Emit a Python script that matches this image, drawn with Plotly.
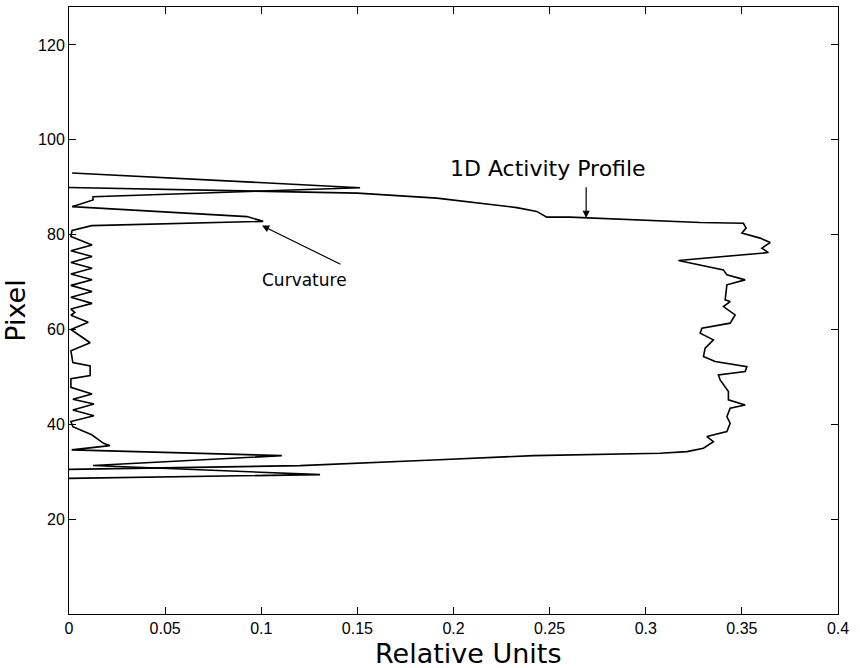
import plotly.graph_objects as go

# Curvature trace (x = relative units, y = pixel)
curv_x = [0.0016, 0.1514, 0.0125, 0.0125, 0.0016, 0.0926, 0.1010, 0.0118, 0.0016,
          0.0010, 0.0120, 0.0010, 0.0120, 0.0010, 0.0120, 0.0010, 0.0120, 0.0010,
          0.0120, 0.0010, 0.0120, 0.0010, 0.0030, 0.0010, 0.0100, 0.0010, 0.0110,
          0.0010, 0.0020, 0.0110, 0.0110, 0.0010, 0.0010, 0.0120, 0.0020, 0.0130,
          0.0020, 0.0130, 0.0010, 0.0020, 0.0118, 0.0180, 0.0213, 0.0014, 0.1107,
          0.0125, 0.1306, 0.0]
curv_y = [93.0, 89.9, 88.0, 87.3, 85.9, 83.8, 82.8, 81.9, 80.9,
          79.6, 77.8, 76.6, 75.4, 74.1, 72.9, 71.7, 70.5, 69.3,
          68.0, 66.8, 65.5, 64.3, 63.6, 63.0, 61.5, 60.0, 57.2,
          55.5, 53.0, 52.3, 50.3, 49.6, 47.8, 46.4, 45.3, 44.3,
          43.0, 41.8, 40.6, 39.5, 37.8, 36.0, 35.5, 34.6, 33.4,
          31.3, 29.4, 28.6]

# 1D activity profile trace
prof_x = [0.0, 0.05, 0.0955, 0.15, 0.1913, 0.2329, 0.2433, 0.2485, 0.2606, 0.3283,
          0.3508, 0.3522, 0.3500, 0.3595, 0.3647, 0.3604, 0.3638, 0.3170, 0.3404,
          0.3422, 0.3517, 0.3422, 0.3413, 0.3439, 0.3404, 0.3465, 0.3439, 0.3292,
          0.3283, 0.3352, 0.3309, 0.3300, 0.3361, 0.3526, 0.3517, 0.3378, 0.3387,
          0.3430, 0.3430, 0.3517, 0.3439, 0.3422, 0.3439, 0.3422, 0.3318, 0.3352,
          0.3300, 0.3214, 0.3075, 0.2416, 0.1895, 0.1202, 0.0]
prof_y = [89.95, 89.55, 89.15, 88.75, 87.7, 85.7, 84.9, 83.7, 83.7, 82.55,
          82.4, 81.37, 80.32, 79.26, 78.33, 77.15, 76.22, 74.54, 72.57,
          71.52, 70.46, 69.41, 66.24, 65.89, 64.83, 63.08, 61.33, 60.27,
          59.22, 57.81, 56.05, 54.28, 53.23, 52.17, 51.12, 50.42, 49.37,
          46.90, 45.15, 44.09, 43.40, 41.62, 40.23, 38.46, 37.41, 36.35,
          34.96, 34.24, 33.90, 33.40, 32.49, 31.29, 30.5]

x_ticks = [0, 0.05, 0.1, 0.15, 0.2, 0.25, 0.3, 0.35, 0.4]
x_ticktext = ["0", "0.05", "0.1", "0.15", "0.2", "0.25", "0.3", "0.35", "0.4"]
y_ticks = [20, 40, 60, 80, 100, 120]

FONT = "Liberation Sans, Arial, sans-serif"
WIDE = "DejaVu Sans, sans-serif"

fig = go.Figure()
fig.add_trace(go.Scatter(x=curv_x, y=curv_y, mode="lines",
                         line=dict(color="black", width=1.6), showlegend=False))
fig.add_trace(go.Scatter(x=prof_x, y=prof_y, mode="lines",
                         line=dict(color="black", width=1.6), showlegend=False))

fig.update_layout(
    width=860, height=668,
    margin=dict(l=69, r=22, t=7, b=54),
    paper_bgcolor="white", plot_bgcolor="white",
    font=dict(family=FONT, color="black", size=16),
    xaxis=dict(range=[0, 0.4], tickvals=x_ticks, ticktext=x_ticktext,
               ticks="inside", ticklen=7, tickcolor="black",
               showline=True, linecolor="black", linewidth=1, mirror="ticks",
               showgrid=False, zeroline=False,
               tickfont=dict(size=16, family=FONT)),
    yaxis=dict(range=[0, 128], tickvals=y_ticks,
               ticks="inside", ticklen=7, tickcolor="black",
               showline=True, linecolor="black", linewidth=1, mirror="ticks",
               showgrid=False, zeroline=False,
               tickfont=dict(size=16, family=FONT),
               title=dict(text="Pixel", font=dict(size=27, family=WIDE), standoff=4)),
)

# x-axis title (placed as paper annotation to match reference offset)
fig.add_annotation(xref="paper", yref="paper", x=0.519, y=-0.0655,
                   xanchor="center", yanchor="middle", text="Relative Units",
                   showarrow=False, font=dict(size=27, family=WIDE))

fig.add_annotation(x=0.2492, y=93.9, text="1D Activity Profile", showarrow=False,
                   font=dict(size=22, family=WIDE))
fig.add_annotation(x=0.269, y=83.5, ax=0.269, ay=90.3, axref="x", ayref="y",
                   text="", showarrow=True, arrowhead=2, arrowsize=1.2, arrowwidth=1.2,
                   arrowcolor="black")
fig.add_annotation(x=0.1223, y=70.5, text="Curvature", showarrow=False,
                   font=dict(size=17, family=WIDE))
fig.add_annotation(x=0.1004, y=81.9, ax=0.142, ay=73.6, axref="x", ayref="y",
                   text="", showarrow=True, arrowhead=2, arrowsize=1.2, arrowwidth=1.2,
                   arrowcolor="black")

fig.write_html("out.html")
